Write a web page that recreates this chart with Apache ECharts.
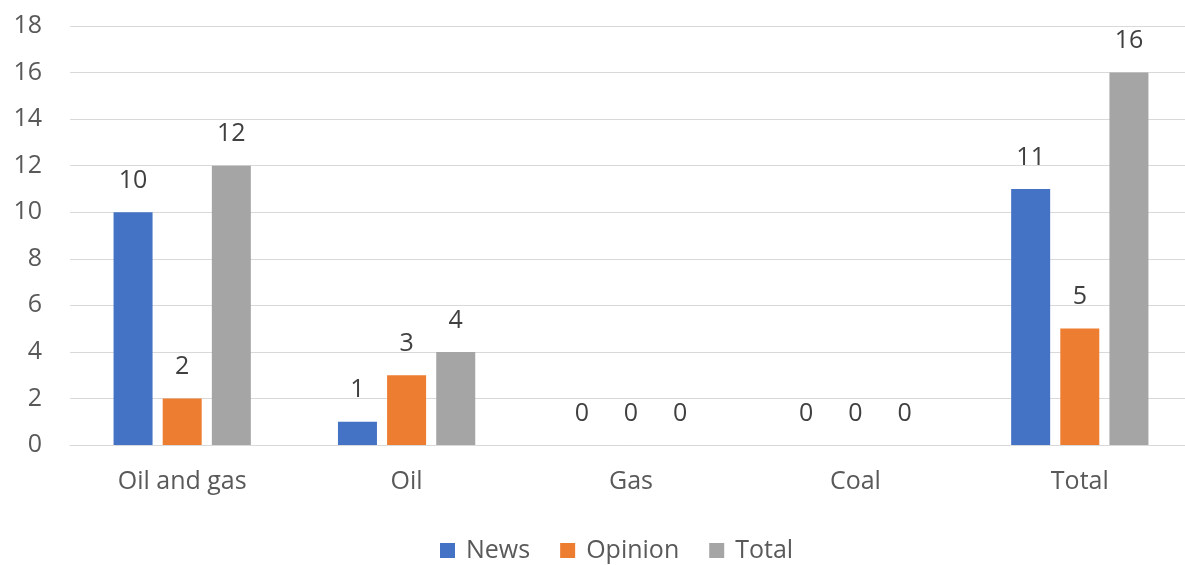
<!DOCTYPE html>
<html>
<head>
<meta charset="utf-8">
<script src="https://cdn.jsdelivr.net/npm/echarts@6/dist/echarts.min.js"></script>
<style>
  html, body { margin: 0; padding: 0; background: #ffffff; }
  #chart { width: 1185px; height: 565px; }
</style>
</head>
<body>
<div id="chart"></div>
<script>
// Article counts by fossil-fuel topic
const categories = ['Oil and gas', 'Oil', 'Gas', 'Coal', 'Total'];
const newsValues = [10, 1, 0, 0, 11];
const opinionValues = [2, 3, 0, 0, 5];
const totalValues = [12, 4, 0, 0, 16];
const seriesNames = ['News', 'Opinion', 'Total'];
const colors = ['#4472C4', '#ED7D31', '#A5A5A5'];

const FONT = '"Open Sans", "Noto Sans", sans-serif';
const FONT_SIZE = 25;

const chart = echarts.init(document.getElementById('chart'), null, { renderer: 'canvas' });

function barSeries(name, data, color) {
  return {
    name: name,
    type: 'bar',
    data: data,
    barWidth: 39,
    barGap: '26%',
    itemStyle: { color: color },
    label: {
      show: true,
      position: 'top',
      distance: 19,
      color: '#404040',
      fontFamily: FONT,
      fontSize: FONT_SIZE
    },
    emphasis: { disabled: true }
  };
}

chart.setOption({
  animation: false,
  backgroundColor: '#ffffff',
  grid: {
    left: 70, top: 26, width: 1122, bottom: 120,
    containLabel: false,
    outerBoundsMode: 'none'
  },
  legend: {
    top: 533,
    left: 435,
    itemWidth: 15,
    itemHeight: 15,
    itemGap: 30,
    icon: 'rect',
    textStyle: { color: '#595959', fontFamily: FONT, fontSize: FONT_SIZE, padding: [0, 0, 0, 6] },
    data: seriesNames
  },
  xAxis: {
    type: 'category',
    data: categories,
    axisLine: { show: true, lineStyle: { color: '#D9D9D9', width: 1 } },
    axisTick: { show: false },
    axisLabel: { color: '#595959', fontFamily: FONT, fontSize: FONT_SIZE, margin: 24 }
  },
  yAxis: {
    type: 'value',
    min: 0,
    max: 18,
    interval: 2,
    axisLine: { show: false },
    axisTick: { show: false },
    splitLine: { lineStyle: { color: '#D9D9D9', width: 1 } },
    axisLabel: { color: '#595959', fontFamily: FONT, fontSize: FONT_SIZE, margin: 28 }
  },
  series: [
    barSeries(seriesNames[0], newsValues, colors[0]),
    barSeries(seriesNames[1], opinionValues, colors[1]),
    barSeries(seriesNames[2], totalValues, colors[2])
  ]
});
</script>
</body>
</html>
